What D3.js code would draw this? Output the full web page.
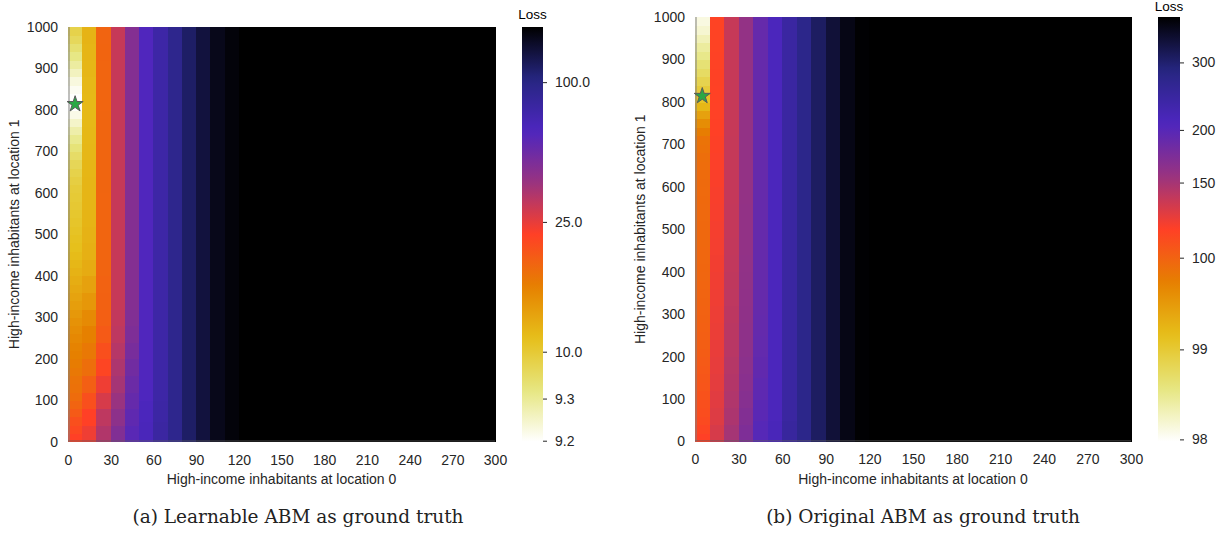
<!DOCTYPE html>
<html><head><meta charset="utf-8">
<script src="https://cdn.jsdelivr.net/npm/d3@7"></script>
<style>body{margin:0;background:#fff} svg{display:block}</style>
</head><body>
<svg id="chart" width="1228" height="533"></svg>
<script>
// ---------------- DATA ----------------
const xTicks = [0, 30, 60, 90, 120, 150, 180, 210, 240, 270, 300];
const yTicks = [0, 100, 200, 300, 400, 500, 600, 700, 800, 900, 1000];
const colWidth = 10;           // each heat-map column covers 10 inhabitants at location 0
const yMax = 1000;

// Loss per column of the grid (index 0 = x in [0,10)), values listed from y=0 upward.
// Row height = 1000 / number of values in the column.
const leftColumns = [
  [23.56, 22.84, 22.12, 21.17, 20.21, 19.49, 19.01, 18.77, 18.29, 17.91, 17.57, 17.24, 16.85, 16.37, 15.89, 15.32, 14.74, 14.22, 13.74, 13.26,
   12.78, 12.30, 11.82, 11.49, 11.20, 10.96, 10.62, 10.38, 10.14, 9.99, 9.96, 9.90, 9.83, 9.74, 9.62, 9.49, 9.34, 9.28, 9.25, 9.22,
   9.20, 9.20, 9.21, 9.23, 9.26, 9.29, 9.40, 9.55, 9.71, 9.83],
  [24.52, 23.56, 22.12, 20.69, 19.25, 18.29, 17.57, 16.61, 15.41, 14.46, 13.50, 13.02, 12.78, 12.64, 12.54, 12.54, 12.45, 12.30, 12.21, 12.16,
   12.16, 12.26, 12.40, 12.54, 12.69],
  [39.47, 36.13, 29.45, 24.52, 23.08, 22.12, 21.17, 20.69, 20.45, 20.35, 20.21, 20.11, 20.11, 20.11, 20.11, 20.06, 20.06, 20.06, 20.06, 20.06,
   20.11, 20.11, 20.11, 20.16, 20.21],
  [55.04, 50.59, 46.14, 42.80, 40.58, 38.35, 36.13, 35.01, 33.90, 33.90, 33.90, 33.90, 33.90, 33.90, 33.90, 33.90, 33.90, 33.90, 33.90, 33.90,
   33.90, 33.90, 33.90, 33.90, 33.90],
  [69.51, 67.28, 65.06, 62.83, 60.61, 58.38, 56.16, 55.04, 53.93, 53.93, 53.93, 53.93, 53.93, 53.93, 53.93, 53.93, 53.93, 53.93, 53.93, 53.93,
   53.93, 53.93, 53.93, 53.93, 53.93],
  [76.2, 75.1, 73.5, 72.9, 72.9, 72.9, 72.9, 72.9, 72.9, 72.9, 72.9, 72.9, 72.9, 72.9, 72.9, 72.9, 72.9, 72.9, 72.9, 72.9],
  [87.0, 86.0, 85.1, 85.1, 85.1, 85.1, 85.1, 85.1, 85.1, 85.1, 85.1, 85.1, 85.1, 85.1, 85.1, 85.1, 85.1, 85.1, 85.1, 85.1],
  [96.2], [112.4], [127.4], [140.6], [146.2],
  [150], [150], [150], [150], [150], [150], [150], [150], [150],
  [150], [150], [150], [150], [150], [150], [150], [150], [150]
];
const rightColumns = [
  [118.9, 116.1, 113.3, 111.9, 110.5, 109.0, 107.6, 106.8, 105.9, 104.8, 103.4, 102.5, 102.0, 101.4, 100.8, 100.3, 99.995, 99.986, 99.977, 99.968,
   99.963, 99.958, 99.954, 99.949, 99.949, 99.944, 99.940, 99.940, 99.935, 99.931, 99.926, 99.917, 99.907, 99.894, 99.870, 99.847, 99.755, 99.616, 99.431, 99.222,
   99.083, 98.967, 98.849, 98.731, 98.637, 98.519, 98.425, 98.307, 98.189, 98.118],
  [133.1, 130.8, 129.4, 128.2, 127.4, 126.6, 125.7, 125.1, 124.6, 124.0, 123.4, 122.9, 122.3, 121.8, 121.2, 120.6, 120.1, 119.5, 118.9, 118.6,
   118.4, 118.1, 117.8, 117.5, 117.5],
  [150.0, 147.7, 146.3, 145.2, 144.4, 143.5, 142.9, 142.1, 141.5, 141.0, 140.4, 140.1, 139.8, 139.6, 139.3, 139.3, 139.0, 139.0, 138.7, 138.7,
   138.7, 138.7, 138.7, 138.7, 138.7],
  [174.2, 171.0, 168.5, 166.9, 165.3, 164.1, 163.3, 162.5, 162.1, 161.7, 161.3, 160.9, 160.5, 160.5, 160.1, 160.1, 160.1, 160.1, 160.1, 160.1,
   160.1, 160.1, 160.1, 160.1, 160.1],
  [200.6, 197.5, 195.0, 193.0, 191.8, 191.0, 190.6, 190.3, 190.3, 190.3, 190.3, 190.3, 190.3, 190.3, 190.3, 190.3, 190.3, 190.3, 190.3, 190.3],
  [218.0, 215.0, 213.2, 213.2, 213.2, 213.2, 213.2, 213.2, 213.2, 213.2, 213.2, 213.2, 213.2, 213.2, 213.2, 213.2, 213.2, 213.2, 213.2, 213.2],
  [252.0, 249.0, 247.8, 247.8, 247.8, 247.8, 247.8, 247.8, 247.8, 247.8, 247.8, 247.8, 247.8, 247.8, 247.8, 247.8, 247.8, 247.8, 247.8, 247.8],
  [276.1], [307.9], [334.0], [356.9], [368],
  [370], [370], [370], [370], [370], [370], [370], [370], [370],
  [370], [370], [370], [370], [370], [370], [370], [370], [370]
];
const leftStar = [5, 814];
const rightStar = [5, 814];

// Colour-bar normalisation anchors (loss value -> fraction of the colour bar)
const leftNormLoss = [9.197, 9.2, 9.3, 10.0, 25.0, 100.0, 150.0];
const leftNormPos  = [0, 0.0024, 0.104, 0.217, 0.530, 0.867, 1];
const rightNormLoss = [97.98, 98, 99, 100, 150, 200, 300, 370];
const rightNormPos  = [0, 0.005, 0.217, 0.433, 0.610, 0.734, 0.893, 1];
const leftBarTicks = [9.2, 9.3, 10.0, 25.0, 100.0];
const rightBarTicks = [98, 99, 100, 150, 200, 300];

const captions = ["(a) Learnable ABM as ground truth", "(b) Original ABM as ground truth"];
const xTitle = "High-income inhabitants at location 0";
const yTitle = "High-income inhabitants at location 1";

// ---------------- STYLE / COLOUR MAP (CMRmap reversed) ----------------
const cmapPos = [0, 0.125, 0.25, 0.375, 0.5, 0.625, 0.75, 0.875, 1];
const cmapCol = ["#000000", "#262680", "#4d26bf", "#993380", "#ff4026", "#e68000", "#e6bf1a", "#e6e680", "#ffffff"];
const cmr = d3.scaleLinear().domain(cmapPos).range(cmapCol).interpolate(d3.interpolateRgb).clamp(true);
const colorAt = f => cmr(1 - f);   // f = 0 (low loss) -> white, f = 1 -> black

const svg = d3.select("#chart");
const textColor = "#262626";
const tickFont = "Liberation Sans, Arial, sans-serif";
const fs = 14;

const panels = [
  { cols: leftColumns, star: leftStar, normLoss: leftNormLoss, normPos: leftNormPos, barTicks: leftBarTicks,
    fmt: d3.format(".1f"), x0: 68, x1: 495, yTop: 27, yBot: 441.7, barX: 522, barW: 21, lossY: 19,
    yTitleX: 14, caption: captions[0], capX: 298, id: "L" },
  { cols: rightColumns, star: rightStar, normLoss: rightNormLoss, normPos: rightNormPos, barTicks: rightBarTicks,
    fmt: d3.format("d"), x0: 695, x1: 1131, yTop: 17, yBot: 441.5, barX: 1158, barW: 22, lossY: 11,
    yTitleX: 640, caption: captions[1], capX: 923, id: "R" }
];

const defs = svg.append("defs");

panels.forEach(p => {
  const x = d3.scaleLinear().domain([0, 300]).range([p.x0, p.x1]);
  const y = d3.scaleLinear().domain([0, yMax]).range([p.yBot, p.yTop]);
  const norm = d3.scaleLinear().domain(p.normLoss).range(p.normPos).clamp(true);
  const g = svg.append("g");

  // cells
  const cells = [];
  p.cols.forEach((vals, ci) => {
    const h = yMax / vals.length;
    vals.forEach((v, ri) => cells.push({ x: ci * colWidth, y: ri * h, h, v }));
  });
  g.append("g").attr("shape-rendering", "crispEdges")
    .selectAll("rect").data(cells).join("rect")
    .attr("x", d => x(d.x))
    .attr("y", d => y(d.y + d.h))
    .attr("width", d => x(d.x + colWidth) - x(d.x) + 0.6)
    .attr("height", d => y(d.y) - y(d.y + d.h) + 0.6)
    .attr("fill", d => colorAt(norm(d.v)));

  // faint edge strips (left and bottom) as in the reference
  g.append("rect").attr("x", x(0)).attr("y", y(yMax)).attr("width", 2).attr("height", y(0) - y(yMax))
    .attr("fill", "#808080").attr("opacity", 0.5);
  g.append("rect").attr("x", x(0)).attr("y", y(0) - 1.5).attr("width", x(300) - x(0)).attr("height", 1.5)
    .attr("fill", "#606060").attr("opacity", 0.45);

  // star
  g.append("path")
    .attr("d", d3.symbol(d3.symbolStar, 80)())
    .attr("transform", `translate(${x(p.star[0])},${y(p.star[1])})`)
    .attr("fill", "#2aa845").attr("stroke", "#5a5a5a").attr("stroke-width", 1);

  // x axis
  const xa = g.append("g").attr("transform", `translate(0,${p.yBot})`)
    .call(d3.axisBottom(x).tickValues(xTicks).tickFormat(d3.format("d")).tickSize(0).tickPadding(13));
  xa.select(".domain").remove();
  xa.selectAll("text").attr("font-family", tickFont).attr("font-size", fs).attr("fill", textColor);

  // y axis
  const ya = g.append("g").attr("transform", `translate(${p.x0},0)`)
    .call(d3.axisLeft(y).tickValues(yTicks).tickFormat(d3.format("d")).tickSize(0).tickPadding(10));
  ya.select(".domain").remove();
  ya.selectAll("text").attr("font-family", tickFont).attr("font-size", fs).attr("fill", textColor);

  // axis titles
  g.append("text").attr("x", (p.x0 + p.x1) / 2).attr("y", p.yBot + 42)
    .attr("text-anchor", "middle").attr("font-family", tickFont).attr("font-size", fs)
    .attr("fill", textColor).text(xTitle);
  g.append("text").attr("transform", `translate(${p.yTitleX},${(p.yTop + p.yBot) / 2}) rotate(-90)`)
    .attr("dy", "0.35em").attr("text-anchor", "middle").attr("font-family", tickFont).attr("font-size", fs)
    .attr("fill", textColor).text(yTitle);

  // colour bar
  const gid = "grad" + p.id;
  const grad = defs.append("linearGradient").attr("id", gid)
    .attr("x1", 0).attr("y1", 1).attr("x2", 0).attr("y2", 0);
  d3.range(0, 1.0001, 0.02).forEach(f => grad.append("stop").attr("offset", f).attr("stop-color", colorAt(f)));
  g.append("rect").attr("x", p.barX).attr("y", p.yTop).attr("width", p.barW).attr("height", p.yBot - p.yTop)
    .attr("fill", `url(#${gid})`);
  const barY = d3.scaleLinear().domain(p.normLoss)
    .range(p.normPos.map(f => p.yBot - f * (p.yBot - p.yTop)));
  const ba = g.append("g").attr("transform", `translate(${p.barX + p.barW},0)`)
    .call(d3.axisRight(barY).tickValues(p.barTicks).tickFormat(p.fmt).tickSize(4).tickPadding(8));
  ba.select(".domain").remove();
  ba.selectAll("line").attr("stroke", textColor);
  ba.selectAll("text").attr("font-family", tickFont).attr("font-size", fs).attr("fill", textColor);
  g.append("text").attr("x", p.barX + p.barW / 2).attr("y", p.lossY).attr("text-anchor", "middle")
    .attr("font-family", tickFont).attr("font-size", 13.5).attr("fill", "#000").text("Loss");

  // caption
  g.append("text").attr("x", p.capX).attr("y", 523).attr("text-anchor", "middle")
    .attr("font-family", "DejaVu Serif, serif").attr("font-size", 18.5).attr("fill", "#222").text(p.caption);
});
</script>
</body></html>
